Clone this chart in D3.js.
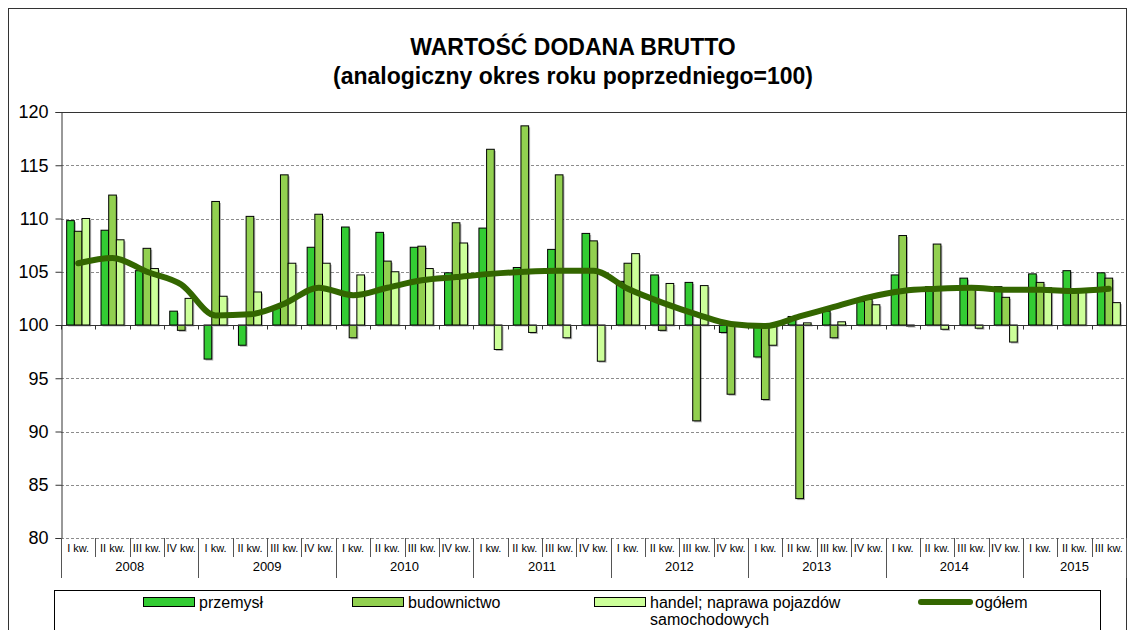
<!DOCTYPE html>
<html>
<head>
<meta charset="utf-8">
<script src="https://cdn.jsdelivr.net/npm/d3@7"></script>
<style>
  body { margin: 0; background: #fff; }
  svg { font-family: "Liberation Sans", Arial, sans-serif; }
</style>
</head>
<body>
<svg id="chart" width="1130" height="630"></svg>
<script>
"use strict";

// Data
const years = ["2008", "2009", "2010", "2011", "2012", "2013", "2014", "2015"];
const quarterLabels = ["I kw.", "II kw.", "III kw.", "IV kw."];
const seriesNames = ["przemysł", "budownictwo", "handel; naprawa pojazdów samochodowych"];
const lineName = "ogółem";

const przemysl = [109.8, 108.9, 105.1, 101.3, 96.8, 98.1, 101.6, 107.3, 109.2, 108.7, 107.3, 104.9,
  109.1, 105.4, 107.1, 108.6, 104.1, 104.7, 104.0, 99.3, 97.0, 100.8, 101.3, 102.2,
  104.7, 103.6, 104.4, 103.6, 104.8, 105.1, 104.9];
const budownictwo = [108.8, 112.2, 107.2, 99.5, 111.6, 110.2, 114.1, 110.4, 98.8, 106.0, 107.4, 109.6,
  116.5, 118.7, 114.1, 107.9, 105.8, 99.5, 91.0, 93.5, 93.0, 83.7, 98.8, 102.4,
  108.4, 107.6, 103.6, 102.6, 104.0, 103.4, 104.4];
const handel = [110.0, 108.0, 105.3, 102.5, 102.7, 103.1, 105.8, 105.8, 104.7, 105.0, 105.3, 107.7,
  97.7, 99.3, 98.8, 96.6, 106.7, 103.9, 103.7, 100.0, 98.1, 100.2, 100.3, 101.9,
  99.9, 99.6, 99.7, 98.4, 103.5, 103.3, 102.1];
const ogolem = [105.8, 106.3, 105.0, 103.8, 100.9, 101.0, 102.0, 103.5, 102.8, 103.5, 104.2, 104.5,
  104.8, 105.0, 105.1, 105.1, 103.4, 102.1, 101.0, 100.1, 99.9, 100.8, 101.7, 102.6,
  103.2, 103.4, 103.5, 103.3, 103.3, 103.2, 103.4];
const yTicks = [80, 85, 90, 95, 100, 105, 110, 115, 120];

const colors = ["#33cc33", "#92d050", "#ccff99"];
const lineColor = "#336600";

// quarters: 2008 I .. 2015 III
const quarters = d3.range(przemysl.length).map(i => ({
  i: i,
  q: quarterLabels[i % 4],
  year: years[Math.floor(i / 4)]
}));

const graph = {};
graph.svg = d3.select("#chart");
graph.width = +graph.svg.attr("width");
graph.height = +graph.svg.attr("height");
graph.plot = { left: 61, right: 1126, top: 112, bottom: 538 };

// outer frame
graph.svg.append("rect")
  .attr("x", 8.5).attr("y", 8.5)
  .attr("width", 1118).attr("height", 640)
  .attr("fill", "#fff")
  .attr("stroke", "#333")
  .attr("stroke-width", 1);

// Title
graph.svg.append("text")
  .attr("x", 573).attr("y", 55)
  .attr("text-anchor", "middle")
  .attr("font-size", 23).attr("font-weight", "bold")
  .text("WARTOŚĆ DODANA BRUTTO");
graph.svg.append("text")
  .attr("x", 573).attr("y", 84)
  .attr("text-anchor", "middle")
  .attr("font-size", 23).attr("font-weight", "bold")
  .text("(analogiczny okres roku poprzedniego=100)");

// Scales
const x = d3.scaleBand()
  .domain(quarters.map(d => d.i))
  .range([graph.plot.left, graph.plot.right])
  .padding(0);
const step = x.step();
const gap = step * 0.165;
const x1 = d3.scaleBand()
  .domain([0, 1, 2])
  .range([gap, step - gap]);
const y = d3.scaleLinear()
  .domain([80, 120])
  .range([graph.plot.bottom, graph.plot.top]);

// Gridlines
graph.svg.append("g")
  .selectAll("line")
  .data(yTicks.filter(v => v < 120))
  .enter()
  .append("line")
  .attr("x1", graph.plot.left).attr("x2", graph.plot.right)
  .attr("y1", d => Math.round(y(d)) + 0.5).attr("y2", d => Math.round(y(d)) + 0.5)
  .attr("stroke", "#8c8c8c")
  .attr("stroke-dasharray", "3,2");

// plot border top / right
graph.svg.append("path")
  .attr("d", "M" + graph.plot.left + "," + (Math.round(y(120)) + 0.5) +
    "H" + (graph.plot.right + 0.5) + "V" + graph.plot.bottom)
  .attr("fill", "none")
  .attr("stroke", "#333");

// Bars
const barSeries = [przemysl, budownictwo, handel];
const barsG = graph.svg.append("g");
barSeries.forEach(function(vals, s) {
  const g = barsG.append("g");
  const data = vals.map((v, i) => ({ i: i, v: v }));
  // shadow
  g.selectAll("rect.shadow")
    .data(data)
    .enter()
    .append("rect")
    .attr("class", "shadow")
    .attr("x", d => x(d.i) + x1(s) + 1.5)
    .attr("y", d => Math.min(y(d.v), y(100)) + 1.5)
    .attr("width", x1.bandwidth())
    .attr("height", d => Math.abs(y(d.v) - y(100)))
    .attr("fill", "#000")
    .attr("opacity", 0.3);
  g.selectAll("rect.bar")
    .data(data)
    .enter()
    .append("rect")
    .attr("class", "bar")
    .attr("x", d => x(d.i) + x1(s))
    .attr("y", d => Math.min(y(d.v), y(100)))
    .attr("width", x1.bandwidth())
    .attr("height", d => Math.abs(y(d.v) - y(100)))
    .attr("fill", colors[s])
    .attr("stroke", "#000")
    .attr("stroke-width", 1);
});

// Axis at 100 with ticks at category boundaries
const y100 = Math.round(y(100)) + 0.5;
const axis100 = graph.svg.append("g");
axis100.append("line")
  .attr("x1", graph.plot.left).attr("x2", graph.plot.right)
  .attr("y1", y100).attr("y2", y100)
  .attr("stroke", "#333");
axis100.selectAll("line.tick")
  .data(d3.range(quarters.length + 1))
  .enter()
  .append("line")
  .attr("class", "tick")
  .attr("x1", i => Math.round(graph.plot.left + i * step) + 0.5)
  .attr("x2", i => Math.round(graph.plot.left + i * step) + 0.5)
  .attr("y1", y100).attr("y2", y100 + 4)
  .attr("stroke", "#333");

// Line ogółem
const line = d3.line()
  .x((d, i) => x(i) + step / 2)
  .y(d => y(d))
  .curve(d3.curveMonotoneX);
graph.svg.append("path")
  .datum(ogolem)
  .attr("d", line)
  .attr("fill", "none")
  .attr("stroke", lineColor)
  .attr("stroke-width", 6)
  .attr("stroke-linejoin", "round")
  .attr("stroke-linecap", "round");

// Y axis
const yAxis = d3.axisLeft(y)
  .tickValues(yTicks)
  .tickSize(6)
  .tickPadding(7)
  .tickFormat(d3.format("d"));
const gY = graph.svg.append("g")
  .attr("transform", "translate(" + (graph.plot.left + 0.5) + ",0)")
  .call(yAxis);
gY.select(".domain").attr("stroke", "#333");
gY.selectAll(".tick line").attr("stroke", "#333");
gY.selectAll(".tick text")
  .attr("font-size", 18)
  .attr("font-family", "Liberation Sans, Arial, sans-serif")
  .attr("fill", "#000");

// bottom category labels
const labG = graph.svg.append("g");
labG.selectAll("line.qsep")
  .data(d3.range(quarters.length + 1))
  .enter()
  .append("line")
  .attr("class", "qsep")
  .attr("x1", i => Math.round(graph.plot.left + i * step) + 0.5)
  .attr("x2", i => Math.round(graph.plot.left + i * step) + 0.5)
  .attr("y1", graph.plot.bottom)
  .attr("y2", i => (i % 4 === 0 || i === quarters.length) ? 578 : 557)
  .attr("stroke", "#555");
labG.selectAll("text.q")
  .data(quarters)
  .enter()
  .append("text")
  .attr("class", "q")
  .attr("x", d => x(d.i) + step / 2)
  .attr("y", 552)
  .attr("text-anchor", "middle")
  .attr("font-size", 11)
  .attr("fill", "#000")
  .text(d => d.q);
labG.selectAll("text.year")
  .data(years)
  .enter()
  .append("text")
  .attr("class", "year")
  .attr("x", (d, k) => {
    const idx = quarters.filter(q => q.year === d).map(q => q.i);
    return (x(idx[0]) + x(idx[idx.length - 1]) + step) / 2;
  })
  .attr("y", 571)
  .attr("text-anchor", "middle")
  .attr("font-size", 13)
  .text(d => d);

// Legend
const legend = graph.svg.append("g");
legend.append("rect")
  .attr("x", 54.5).attr("y", 590.5)
  .attr("width", 1046).attr("height", 50)
  .attr("fill", "#fff")
  .attr("stroke", "#000");
const legX = [143, 352, 594];
seriesNames.forEach(function(name, s) {
  legend.append("rect")
    .attr("x", legX[s] + 0.5).attr("y", 597.5)
    .attr("width", 51).attr("height", 9)
    .attr("fill", colors[s])
    .attr("stroke", "#000");
  const t = legend.append("text")
    .attr("x", legX[s] + 56).attr("y", 608)
    .attr("font-size", 16);
  if (s === 2) {
    t.append("tspan").attr("x", legX[s] + 56).text("handel; naprawa pojazdów");
    t.append("tspan").attr("x", legX[s] + 56).attr("dy", 17).text("samochodowych");
  } else {
    t.text(name);
  }
});
legend.append("line")
  .attr("x1", 921).attr("x2", 970)
  .attr("y1", 602).attr("y2", 602)
  .attr("stroke", lineColor)
  .attr("stroke-width", 6)
  .attr("stroke-linecap", "round");
legend.append("text")
  .attr("x", 975).attr("y", 608)
  .attr("font-size", 16)
  .text(lineName);
</script>
</body>
</html>
